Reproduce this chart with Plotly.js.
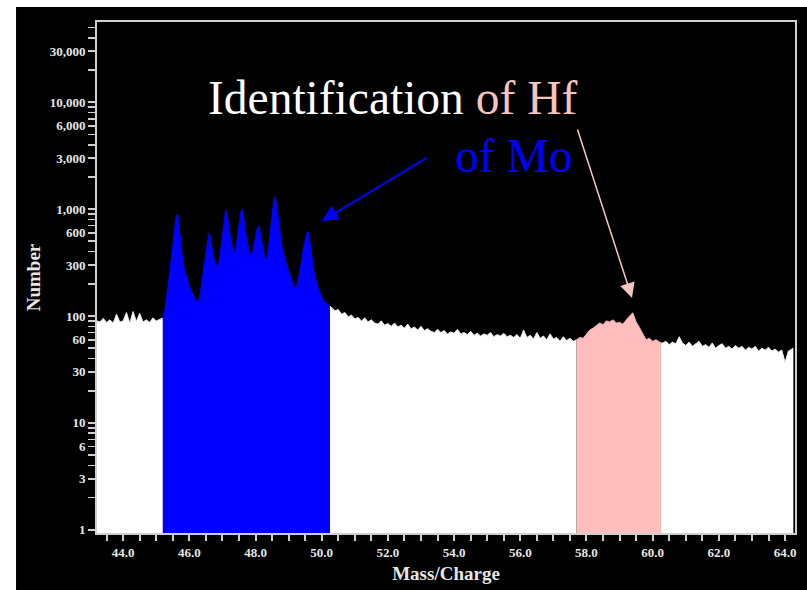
<!DOCTYPE html>
<html>
<head>
<meta charset="utf-8">
<script src="https://cdn.plot.ly/plotly-3.0.1.min.js"></script>
<style>html,body{margin:0;padding:0;background:#fff;}</style>
</head>
<body>
<div id="chart" style="width:807px;height:590px;"></div>
<script>
// ---- Data ----
var massLeft = [43.2,43.3,43.4,43.5,43.6,43.7,43.8,43.9,44.0,44.1,44.2,44.3,44.4,44.5,44.6,44.7,44.8,44.9,45.0,45.1,45.2];
var countsLeft = [90,88,95,87,92,86,104,88,90,108,86,110,89,106,88,92,87,96,90,93,96];

var massMo = [45.20,45.25,45.30,45.35,45.40,45.45,45.50,45.55,45.60,45.65,45.70,45.75,45.80,45.85,45.90,45.95,
  46.00,46.05,46.10,46.15,46.20,46.25,46.30,46.35,46.40,46.45,46.50,46.55,46.60,46.65,46.70,46.75,46.80,46.85,46.90,46.95,
  47.00,47.05,47.10,47.15,47.20,47.25,47.30,47.35,47.40,47.45,47.50,47.55,47.60,47.65,47.70,47.75,47.80,47.85,47.90,47.95,
  48.00,48.05,48.10,48.15,48.20,48.25,48.30,48.35,48.40,48.45,48.50,48.55,48.60,48.65,48.70,48.75,48.80,48.85,48.90,48.95,
  49.00,49.05,49.10,49.15,49.20,49.25,49.30,49.35,49.40,49.45,49.50,49.55,49.60,49.65,49.70,49.75,49.80,49.85,49.90,49.95,
  50.00,50.05,50.10,50.15,50.20,50.25];
var countsMo = [96,110,140,175,240,330,460,650,840,900,640,420,330,275,240,215,
  190,172,160,148,140,134,145,180,235,300,390,490,600,520,390,330,300,285,320,430,
  580,800,990,860,660,520,440,395,410,560,740,920,1000,820,600,480,410,370,370,460,
  560,660,700,560,450,390,350,340,460,650,900,1180,1320,1000,730,560,440,380,330,290,
  260,240,210,190,180,195,230,270,330,430,520,600,610,450,350,280,230,200,180,165,
  150,140,135,130,126,124];

var massMid = [50.25,50.3,50.4,50.5,50.6,50.7,50.8,50.9,51.0,51.1,51.2,51.3,51.4,51.5,51.6,51.7,51.8,51.9,
  52.0,52.1,52.2,52.3,52.4,52.5,52.6,52.7,52.8,52.9,53.0,53.1,53.2,53.3,53.4,53.5,53.6,53.7,53.8,53.9,
  54.0,54.1,54.2,54.3,54.4,54.5,54.6,54.7,54.8,54.9,55.0,55.1,55.2,55.3,55.4,55.5,55.6,55.7,55.8,55.9,
  56.0,56.1,56.2,56.3,56.4,56.5,56.6,56.7,56.8,56.9,57.0,57.1,57.2,57.3,57.4,57.5,57.6,57.7];
var countsMid = [124,120,112,115,104,108,98,102,94,97,90,96,88,92,86,84,90,82,
  85,80,86,79,82,77,84,76,79,74,80,73,76,72,70,75,70,73,68,71,
  69,75,68,70,67,72,66,69,65,68,66,70,64,67,65,69,64,66,63,67,
  62,74,63,66,61,70,62,65,60,68,61,63,58,64,59,62,58,60];

var massHf = [57.7,57.8,57.9,58.0,58.1,58.2,58.3,58.4,58.5,58.6,58.7,58.8,58.9,59.0,59.1,59.2,59.3,59.4,59.5,59.6,59.7,59.8,59.9,60.0,60.1,60.2,60.25];
var countsHf = [60,63,62,68,74,77,82,86,83,90,88,92,86,87,84,92,100,107,88,78,68,60,62,58,60,57,56];

var massRight = [60.25,60.3,60.4,60.5,60.6,60.7,60.8,60.9,61.0,61.1,61.2,61.3,61.4,61.5,61.6,61.7,61.8,61.9,
  62.0,62.1,62.2,62.3,62.4,62.5,62.6,62.7,62.8,62.9,63.0,63.1,63.2,63.3,63.4,63.5,63.6,63.7,63.8,63.9,
  64.0,64.1,64.2,64.25];
var countsRight = [56,56,58,54,57,55,64,56,53,57,52,55,58,52,54,51,56,50,
  53,55,50,52,49,53,50,52,48,51,49,52,47,50,48,51,47,49,46,48,
  37,47,49,50];

// ---- Tick labels ----
var yTickVals = [1,3,6,10,30,60,100,300,600,1000,3000,6000,10000,30000];
var yTickText = ['1','3','6','10','30','60','100','300','600','1,000','3,000','6,000','10,000','30,000'];
var yMinorVals = [2,4,5,7,8,9,20,40,50,70,80,90,200,400,500,700,800,900,2000,4000,5000,7000,8000,9000,20000,40000,50000];
var xTickVals = [44,46,48,50,52,54,56,58,60,62,64];
var xTickText = ['44.0','46.0','48.0','50.0','52.0','54.0','56.0','58.0','60.0','62.0','64.0'];
var xMinorVals = [43.5,44.5,45,45.5,46.5,47,47.5,48.5,49,49.5,50.5,51,51.5,52.5,53,53.5,54.5,55,55.5,
  56.5,57,57.5,58.5,59,59.5,60.5,61,61.5,62.5,63,63.5];

// merged tick lists: labelled major ticks plus unlabelled minor ticks
function mergeTicks(major, labels, minor) {
  var all = major.concat(minor).sort(function (a, b) { return a - b; });
  var text = all.map(function (v) { var i = major.indexOf(v); return i >= 0 ? labels[i] : ''; });
  return {vals: all, text: text};
}
var xTicks = mergeTicks(xTickVals, xTickText, xMinorVals);
var yTicks = mergeTicks(yTickVals, yTickText, yMinorVals);

var white = '#ffffff', blue = '#0000ff', pink = '#ffbdbd';
var axisGrey = '#cfcfcf';

function seg(x, y, fill, line) {
  return {x: x, y: y, type: 'scatter', mode: 'lines', fill: 'tozeroy',
    fillcolor: fill, line: {color: line, width: 1}, hoverinfo: 'x+y', showlegend: false};
}

var traces = [
  seg(massLeft, countsLeft, white, '#e6e6e6'),
  seg(massMid, countsMid, white, '#e6e6e6'),
  seg(massRight, countsRight, white, '#e6e6e6'),
  seg(massMo, countsMo, blue, blue),
  seg(massHf, countsHf, pink, '#f4aaaa')
];

var tickFont = {family: 'Liberation Serif, Times New Roman, serif', size: 13, color: '#e6e6e6', weight: 'bold'};
var titleFont = {family: 'Liberation Serif, Times New Roman, serif', size: 19, color: '#e6e6e6', weight: 'bold'};

var layout = {
  width: 807, height: 590,
  margin: {l: 97, r: 12, t: 22, b: 57},
  paper_bgcolor: '#000000',
  plot_bgcolor: '#000000',
  showlegend: false,
  xaxis: {
    range: [43.21, 64.3], showgrid: false, zeroline: false,
    showline: true, linecolor: axisGrey, linewidth: 2, mirror: true,
    tickmode: 'array', tickvals: xTicks.vals, ticktext: xTicks.text,
    ticks: 'outside', ticklen: 6, tickwidth: 2, tickcolor: axisGrey,
    tickfont: tickFont,
    title: {text: 'Mass/Charge', font: titleFont, standoff: 8}
  },
  yaxis: {
    type: 'log', range: [-0.03, 4.75], showgrid: false, zeroline: false,
    showline: true, linecolor: axisGrey, linewidth: 2, mirror: true,
    tickmode: 'array', tickvals: yTicks.vals, ticktext: yTicks.text,
    ticks: 'outside', ticklen: 7, tickwidth: 1.6, tickcolor: axisGrey,
    tickfont: tickFont,
    title: {text: 'Number', font: titleFont, standoff: 4}
  },
  shapes: [
    {type: 'rect', xref: 'paper', yref: 'paper', x0: -0.2, x1: -0.116, y0: -0.2, y1: 1.2, fillcolor: '#ffffff', line: {width: 0}, layer: 'above'},
    {type: 'rect', xref: 'paper', yref: 'paper', x0: -0.2, x1: 1.2, y0: 1.0294, y1: 1.2, fillcolor: '#ffffff', line: {width: 0}, layer: 'above'}
  ],
  annotations: [
    {xref: 'paper', yref: 'paper', x: 0.4233, y: 0.851, xanchor: 'center', yanchor: 'middle', showarrow: false,
     text: 'Identification <span style="color:#f6c4be">of Hf</span>',
     font: {family: 'Liberation Serif, Times New Roman, serif', size: 47.5, color: '#ffffff'}},
    {xref: 'paper', yref: 'paper', x: 0.5967, y: 0.738, xanchor: 'center', yanchor: 'middle', showarrow: false,
     text: 'of Mo',
     font: {family: 'Liberation Serif, Times New Roman, serif', size: 47.5, color: '#0000ff'}},
    {xref: 'paper', yref: 'paper', x: 0.3223, y: 0.6106, text: '', showarrow: true,
     ax: 106, ay: -64, arrowhead: 2, arrowsize: 1.6, arrowwidth: 2, arrowcolor: '#0000ff', standoff: 0},
    {xref: 'paper', yref: 'paper', x: 0.7665, y: 0.4599, text: '', showarrow: true,
     ax: -55, ay: -170, arrowhead: 2, arrowsize: 2, arrowwidth: 1.5, arrowcolor: '#f6c4be', standoff: 0}
  ]
};

Plotly.newPlot('chart', traces, layout, {displayModeBar: false, staticPlot: true});
</script>
</body>
</html>
